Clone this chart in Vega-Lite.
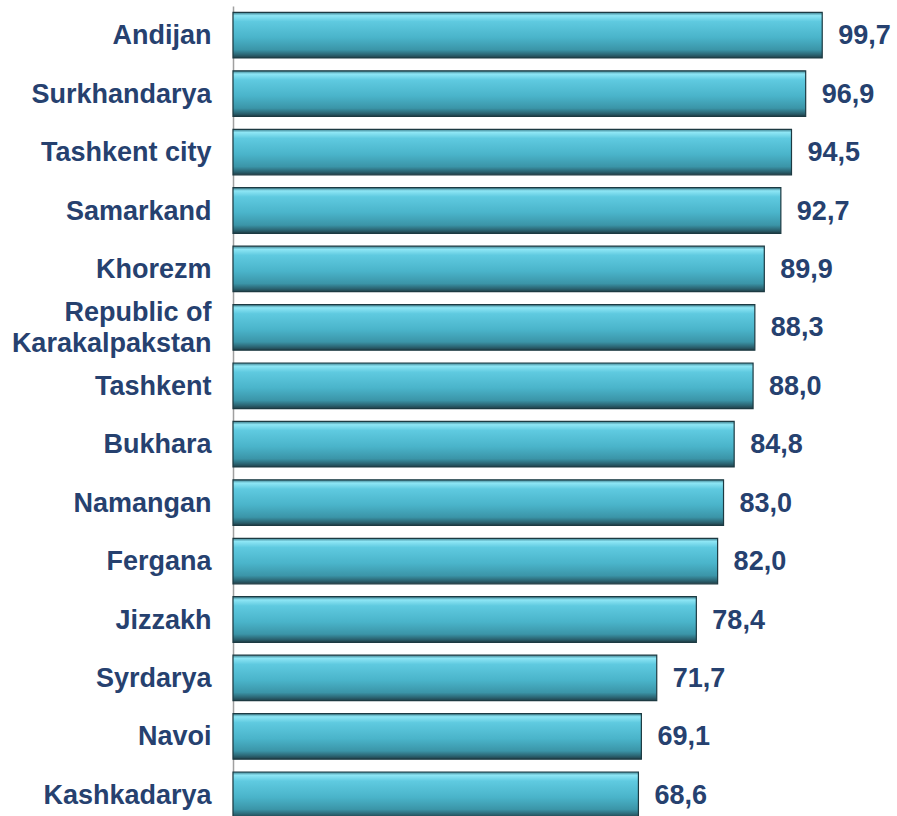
{
  "$schema": "https://vega.github.io/schema/vega-lite/v6.json",
  "autosize": {"type": "none"},
  "width": 591,
  "height": 818,
  "padding": {"left": 233, "top": 6, "right": 73, "bottom": 0},
  "background": "white",
  "config": {
    "view": {"stroke": null},
    "locale": {"number": {"decimal": ",", "thousands": ".", "grouping": [3], "currency": ["", ""]}}
  },
  "data": {
    "values": [
      {"region": "Andijan", "value": 99.7},
      {"region": "Surkhandarya", "value": 96.9},
      {"region": "Tashkent city", "value": 94.5},
      {"region": "Samarkand", "value": 92.7},
      {"region": "Khorezm", "value": 89.9},
      {"region": "Republic of Karakalpakstan", "value": 88.3},
      {"region": "Tashkent", "value": 88.0},
      {"region": "Bukhara", "value": 84.8},
      {"region": "Namangan", "value": 83.0},
      {"region": "Fergana", "value": 82.0},
      {"region": "Jizzakh", "value": 78.4},
      {"region": "Syrdarya", "value": 71.7},
      {"region": "Navoi", "value": 69.1},
      {"region": "Kashkadarya", "value": 68.6}
    ]
  },
  "encoding": {
    "y": {
      "field": "region",
      "type": "nominal",
      "sort": null,
      "scale": {"paddingInner": 0.22, "paddingOuter": 0.11},
      "axis": {
        "title": null,
        "ticks": false,
        "domain": true,
        "domainColor": "#a0a0a0",
        "domainWidth": 1.5,
        "labelFont": "Liberation Sans",
        "labelFontWeight": "bold",
        "labelFontSize": 27,
        "labelColor": "#26416f",
        "labelPadding": 22,
        "labelLimit": 300,
        "labelLineHeight": 31,
        "labelOffset": {"condition": {"test": "datum.value == 'Republic of Karakalpakstan'", "value": -14}, "value": 1},
        "labelExpr": "datum.value == 'Republic of Karakalpakstan' ? ['Republic of', 'Karakalpakstan'] : datum.value"
      }
    },
    "x": {
      "field": "value",
      "type": "quantitative",
      "scale": {"domain": [0, 100], "nice": false},
      "axis": null
    }
  },
  "layer": [
    {
      "mark": {
        "type": "bar",
        "stroke": "#1c3a42",
        "strokeWidth": 1.2,
        "fill": {
          "gradient": "linear",
          "x1": 0, "y1": 0, "x2": 0, "y2": 1,
          "stops": [
            {"offset": 0, "color": "#3b7d8c"},
            {"offset": 0.07, "color": "#8ee6f5"},
            {"offset": 0.2, "color": "#5fcae0"},
            {"offset": 0.55, "color": "#4ab4ca"},
            {"offset": 0.82, "color": "#3b95a8"},
            {"offset": 0.93, "color": "#2b6472"},
            {"offset": 1, "color": "#203f48"}
          ]
        }
      }
    },
    {
      "mark": {
        "type": "text",
        "align": "left",
        "baseline": "middle",
        "dx": 16,
        "dy": 1,
        "font": "Liberation Sans",
        "fontWeight": "bold",
        "fontSize": 27,
        "color": "#26416f"
      },
      "encoding": {
        "text": {"field": "value", "type": "quantitative", "format": ".1f"}
      }
    }
  ]
}
